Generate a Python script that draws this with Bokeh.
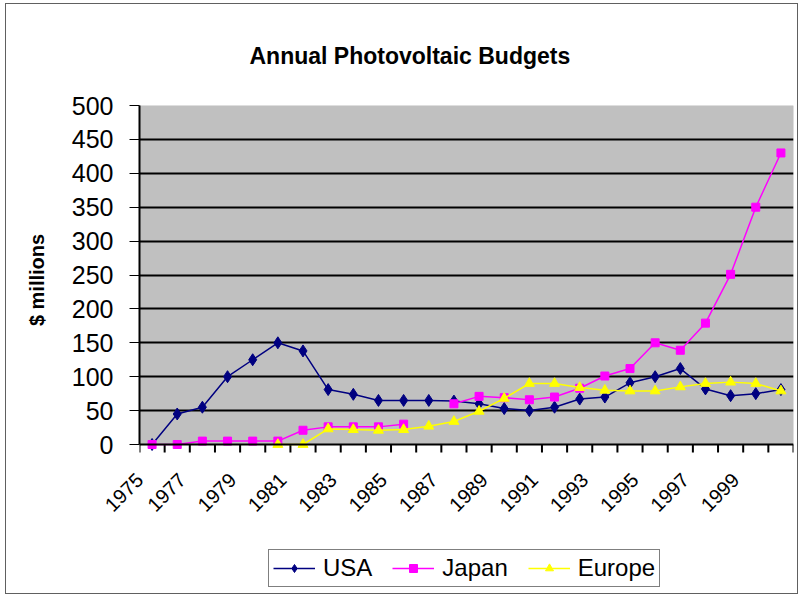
import math
from bokeh.plotting import figure
from bokeh.layouts import column
from bokeh.models import FixedTicker, Legend, LegendItem, Range1d, BoxAnnotation, Span
from bokeh.embed import file_html
from bokeh.resources import INLINE

nan = float("nan")

years = list(range(1975, 2001))
usa = [0, 45, 55, 100, 125, 150, 138, 81, 74, 65, 65, 65, 64, 60, 53, 50,
       55, 67, 70, 91, 100, 112, 82, 72, 75, 81]
japan = [0, 0, 5, 5, 5, 5, 21, 26, 26, 26, 30, nan, 60, 71, 69, 66,
         70, 83, 101, 112, 150, 139, 179, 251, 350, 430]
europe = [nan, nan, nan, nan, nan, 0, 0, 23, 22, 21, 22, 27, 34, 49, 68, 90,
          90, 84, 80, 79, 79, 85, 90, 92, 90, 79]
year_labels = list(range(1975, 2000, 2))
y_ticks = list(range(0, 501, 50))
grid_ticks = list(range(50, 451, 50))

FONT = "Liberation Sans"
Y_MAX = 500
PLOT_H = 339                      # pixel height of the 0..500 plot area
PX_PER_UNIT = PLOT_H / Y_MAX
EXTRA_PX = 10                     # white strip under the axis for tick marks
y_low = -EXTRA_PX / PX_PER_UNIT
tick_len = 8 / PX_PER_UNIT
x_start = years[0] - 0.5
x_end = years[-1] + 0.5

chart = figure(frame_width=654, frame_height=PLOT_H + EXTRA_PX,
               output_backend="svg", toolbar_location=None,
               x_range=Range1d(x_start, x_end),
               y_range=Range1d(y_low, Y_MAX),
               min_border_left=133, min_border_right=4, min_border_top=101,
               min_border_bottom=86)

chart.background_fill_color = "white"
chart.border_fill_color = "white"
chart.outline_line_color = None

# grey plot area with its grey border
area = BoxAnnotation(bottom=0, fill_color="#C0C0C0", fill_alpha=1,
                     line_color="#808080", line_width=1, level="image")
chart.add_layout(area)

# title
chart.title.text = "Annual Photovoltaic Budgets"
chart.title.align = "left"
chart.title.offset = 110
chart.title.text_font = FONT
chart.title.text_font_size = "23px"
chart.title.text_font_style = "bold"
chart.title.text_color = "black"
chart.title.standoff = 73

# grid
chart.xgrid.visible = False
chart.ygrid.ticker = FixedTicker(ticks=grid_ticks)
chart.ygrid.grid_line_color = "black"
chart.ygrid.grid_line_width = 2

# y axis
chart.yaxis.ticker = FixedTicker(ticks=y_ticks)
chart.yaxis.bounds = (0, Y_MAX)
chart.yaxis.axis_line_color = "black"
chart.yaxis.axis_line_width = 2
chart.yaxis.major_tick_out = 10
chart.yaxis.major_tick_in = 0
chart.yaxis.major_tick_line_width = 1
chart.yaxis.minor_tick_line_color = None
chart.yaxis.major_label_text_font = FONT
chart.yaxis.major_label_text_font_size = "25px"
chart.yaxis.major_label_text_color = "black"
chart.yaxis.major_label_standoff = 16
chart.yaxis.axis_label = "$ millions"
chart.yaxis.axis_label_text_font = FONT
chart.yaxis.axis_label_text_font_size = "20px"
chart.yaxis.axis_label_text_font_style = "bold"
chart.yaxis.axis_label_text_color = "black"
chart.yaxis.axis_label_standoff = 21

# category axis line at 0 and tick marks between categories
chart.add_layout(Span(location=0, dimension="width", line_color="black",
                      line_width=2, level="guide"))
boundaries = [y - 0.5 for y in years] + [years[-1] + 0.5]
chart.segment(x0=boundaries, y0=[0] * len(boundaries), x1=boundaries,
              y1=[-tick_len] * len(boundaries), line_color="black", line_width=2)

# x axis: rotated year labels, every other year (anchored so the text ends
# just left of its category, as in the original)
label_pos = [max(y - 0.8, x_start + 0.01) for y in year_labels]
chart.xaxis.ticker = FixedTicker(ticks=label_pos)
chart.xaxis.major_label_overrides = {pos: str(y) for pos, y in zip(label_pos, year_labels)}
chart.xaxis.axis_line_color = None
chart.xaxis.major_tick_line_color = None
chart.xaxis.minor_tick_line_color = None
chart.xaxis.major_label_orientation = math.pi / 4
chart.xaxis.major_label_text_font = FONT
chart.xaxis.major_label_text_font_size = "20px"
chart.xaxis.major_label_text_color = "black"
chart.xaxis.major_label_standoff = 16

# series
series = [
    ("USA", usa, "#000080", "diamond", 12),
    ("Japan", japan, "#FF00FF", "square", 8),
    ("Europe", europe, "#FFFF00", "triangle", 10),
]
for name, vals, color, marker, size in series:
    chart.line(years, vals, line_color=color, line_width=1.5)
    chart.scatter(years, vals, marker=marker, size=size, fill_color=color,
                  line_color=color)

# legend strip (separate figure beneath the chart; its series lie outside its view)
leg = figure(frame_width=791, frame_height=53, output_backend="svg",
             toolbar_location=None, x_range=Range1d(0, 1), y_range=Range1d(0, 1),
             min_border=0)
leg.axis.visible = False
leg.grid.visible = False
leg.outline_line_color = None
leg.background_fill_color = "white"
leg.border_fill_color = "white"
items = []
for name, vals, color, marker, size in series:
    r1 = leg.line(years, vals, line_color=color, line_width=1.5)
    r2 = leg.scatter(years, vals, marker=marker, size=size, fill_color=color,
                     line_color=color)
    items.append(LegendItem(label=name, renderers=[r1, r2]))

legend = Legend(items=items, orientation="horizontal", location=(262, 6))
legend.label_text_font = FONT
legend.label_text_font_size = "24px"
legend.label_text_color = "black"
legend.border_line_color = "black"
legend.border_line_width = 1
legend.background_fill_color = "white"
legend.glyph_width = 42
legend.label_standoff = 8
legend.spacing = 20
legend.padding = 4
legend.margin = 0
leg.add_layout(legend, "center")

p = column(chart, leg, spacing=0)
p.margin = (3, 0, 0, 5)
p.styles = {"border": "1px solid #606060"}

open("out.html", "w").write(file_html(p, INLINE))
